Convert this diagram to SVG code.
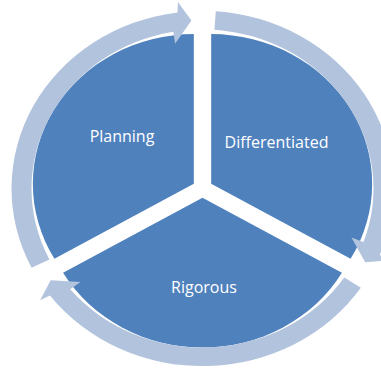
<svg xmlns="http://www.w3.org/2000/svg" width="381" height="371" viewBox="0 0 381 371">
  <style>
    .wedge { fill: #4F81BD; }
    .ring { fill: #B2C3DD; }
    .label { fill: #FFFFFF; font-family: "Open Sans", "Noto Sans", "Liberation Sans", sans-serif; font-size: 16px; text-anchor: middle; }
  </style>
  <rect width="381" height="371" fill="#FFFFFF"/>

  <!-- segments: radius 161, each pushed 10 out along its bisector; y squashed by 0.93 -->
  <g id="node-planning">
    <path class="wedge" transform="translate(202.5 188.5) scale(1 0.93)" d="M -8.66 -5 L -148.09 75.5 A 161 161 0 0 1 -8.66 -166 Z"/>
    <text class="label" x="122" y="142">Planning</text>
  </g>
  <g id="node-differentiated">
    <path class="wedge" transform="translate(202.5 188.5) scale(1 0.93)" d="M 8.66 -5 L 8.66 -166 A 161 161 0 0 1 148.09 75.5 Z"/>
    <text class="label" x="276.5" y="147.5">Differentiated</text>
  </g>
  <g id="node-rigorous">
    <path class="wedge" transform="translate(202.5 188.5) scale(1 0.93)" d="M 0 10 L 139.43 90.5 A 161 161 0 0 1 -139.43 90.5 Z"/>
    <text class="label" x="204" y="292.5">Rigorous</text>
  </g>

  <!-- clockwise circular arrows, ring radii 171..191 around the common centre -->
  <g id="connectors" transform="translate(202.5 188.5) scale(1 0.93)">
    <path class="ring" d="M -170.93 85.23 A 191 191 0 0 1 -24.93 -189.36 L -24.62 -200.49 L -11.05 -180.66 L -27.43 -155.60 L -29.11 -168.51 A 171 171 0 0 0 -153.03 76.30 Z"/>
    <path class="ring" d="M 13.32 -190.53 A 191 191 0 0 1 177.09 71.55 L 186.63 77.30 L 162.68 79.35 L 148.93 52.74 L 161.00 57.64 A 171 171 0 0 0 11.93 -170.58 Z"/>
    <path class="ring" d="M 158.34 106.81 A 191 191 0 0 1 -152.53 114.94 L -162.39 120.15 L -151.80 98.57 L -121.91 100.50 L -132.32 108.31 A 171 171 0 0 0 141.76 95.62 Z"/>
  </g>
</svg>
